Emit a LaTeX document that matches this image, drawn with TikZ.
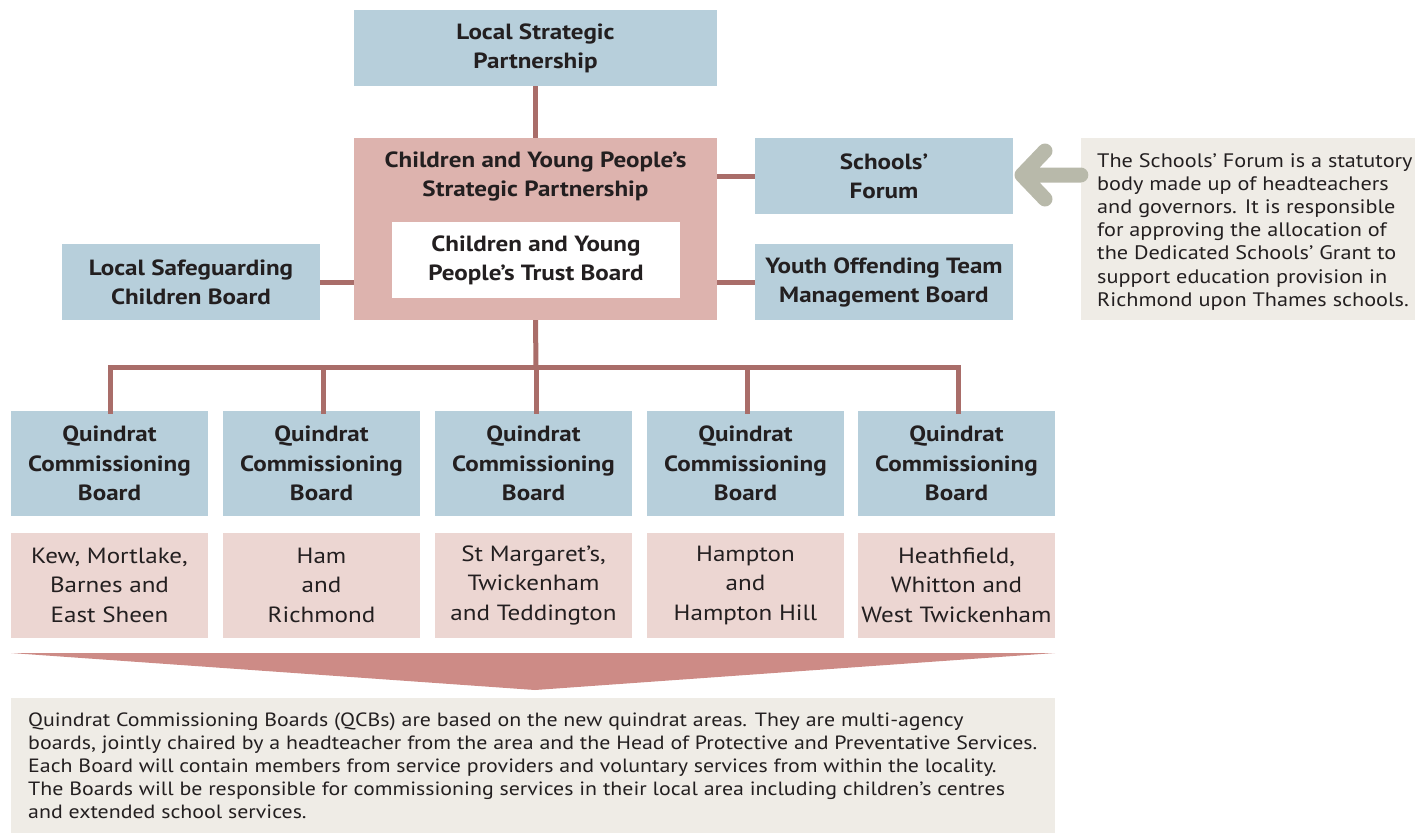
\documentclass[tikz,border=0pt]{standalone}
\usepackage{fontspec}
\setmainfont{PT Sans}[FakeStretch=1.14]
\definecolor{boardblue}{HTML}{B7CFDB}
\definecolor{partpink}{HTML}{DDB3AE}
\definecolor{areapink}{HTML}{ECD6D2}
\definecolor{linkred}{HTML}{A96D69}
\definecolor{notebeige}{HTML}{EFECE6}
\definecolor{funnel}{HTML}{CD8B86}
\definecolor{arrowgrey}{HTML}{B8B9AA}
\definecolor{ink}{HTML}{231F20}
\tikzset{
  box/.style={rectangle, inner sep=0pt, align=center, text=ink},
  bluebox/.style={box, fill=boardblue, font=\bfseries\fontsize{22}{29}\selectfont},
  areabox/.style={box, fill=areapink, font=\fontsize{22}{29.5}\selectfont,
    minimum width=197, minimum height=105},
  qcbbox/.style={bluebox, minimum width=197, minimum height=105,
    font=\bfseries\fontsize{22}{29.5}\selectfont},
  link/.style={draw=linkred, line width=5pt},
}
\begin{document}
\begin{tikzpicture}[x=1pt, y=-1pt]
\useasboundingbox (0,0) rectangle (1415,833);

% top level
\node[bluebox, minimum width=363, minimum height=76] (lsp) at (535.5,48)
  {Local Strategic\\Partnership};

% strategic partnership with the trust board inside
\node[box, fill=partpink, minimum width=363, minimum height=182] (cypsp) at (535.5,229) {};
\node[box, font=\bfseries\fontsize{22}{29}\selectfont] (cypspt) at (535.5,176)
  {Children and Young People’s\\Strategic Partnership};
\node[box, fill=white, minimum width=288, minimum height=76,
  font=\bfseries\fontsize{22}{29}\selectfont] (trust) at (536,260)
  {Children and Young\\People’s Trust Board};

% side boards
\node[bluebox, minimum width=258, minimum height=76] (sf) at (884,176)
  {Schools’\\Forum};
\node[bluebox, minimum width=258, minimum height=76] (yot) at (884,282)
  {Youth Offending Team\\Management Board};
\node[bluebox, minimum width=258, minimum height=76] (lscb) at (191,282)
  {Local Safeguarding\\Children Board};

% note on the Schools' Forum
\node[box, fill=notebeige, minimum width=334, minimum height=182] (note) at (1248,229) {};
\node[box, align=left, anchor=north west, font=\fontsize{19.5}{23.2}\selectfont]
  (notetext) at (1097,153)
  {The Schools’ Forum is a statutory\\body made up of headteachers\\and governors. It is responsible\\for approving the allocation of\\the Dedicated Schools’ Grant to\\support education provision in\\Richmond upon Thames schools.};

% grey arrow pointing from the note to the Schools' Forum
\coordinate (tip) at (1022,175);
\coordinate (armup) at (1045,151);
\coordinate (armdown) at (1045,199);
\draw[arrowgrey, line width=15pt, line cap=round, line join=round]
  (note.west |- tip) -- (tip) (armup) -- (tip) -- (armdown);

% links between the top boards
\draw[link] (lsp.south) -- (cypsp.north);
\draw[link] (cypsp.east |- sf.west) -- (sf.west);
\draw[link] (cypsp.east |- yot.west) -- (yot.west);
\draw[link] (lscb.east) -- (cypsp.west |- lscb.east);

% quindrat commissioning boards and their areas
\foreach \i/\cx/\area in {
  1/109.5/{Kew, Mortlake,\\Barnes and\\East Sheen},
  2/321.5/{Ham\\and\\Richmond},
  3/533.5/{St Margaret’s,\\Twickenham\\and Teddington},
  4/745.5/{Hampton\\and\\Hampton Hill},
  5/956.5/{Heathfield,\\Whitton and\\West Twickenham}} {
  \node[qcbbox] (qcb\i) at (\cx,463.5) {Quindrat\\Commissioning\\Board};
  \node[areabox] (area\i) at (\cx,585) {\area};
}

% tree from the partnership down to the boards
\coordinate (hub) at (536,367);
\draw[link] (cypsp.south) -- (hub);
\foreach \i/\dx in {1/110,2/323,3/536,4/747,5/958} {
  \draw[link, line cap=rect] (\dx,411) |- (hub);
}

% funnel and summary
\fill[funnel] (11,653) -- (1055,653) -- (535,690) -- cycle;
\node[box, fill=notebeige, minimum width=1044, minimum height=135] (summary) at (533,765.5) {};
\node[box, align=left, anchor=north west,
  font=\fontsize{19.2}{22.9}\selectfont] (summarytext) at (28,713)
  {Quindrat Commissioning Boards (QCBs) are based on the new quindrat areas. They are multi-agency\\boards, jointly chaired by a headteacher from the area and the Head of Protective and Preventative Services.\\Each Board will contain members from service providers and voluntary services from within the locality.\\The Boards will be responsible for commissioning services in their local area including children’s centres\\and extended school services.};
\end{tikzpicture}
\end{document}
